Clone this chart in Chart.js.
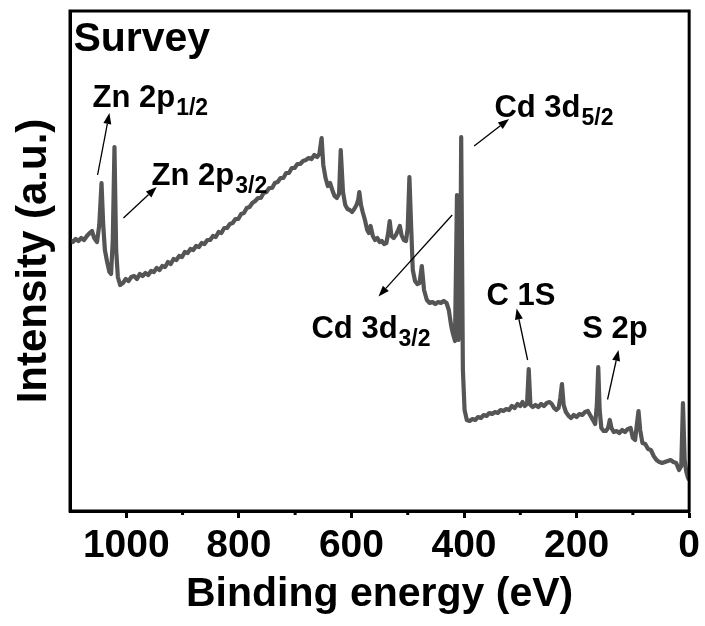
<!DOCTYPE html>
<html>
<head>
<meta charset="utf-8">
<script src="https://cdn.jsdelivr.net/npm/chart.js@4.4.1/dist/chart.umd.min.js"></script>
<style>
    html, body { margin: 0; padding: 0; background: #fff; }
    #wrap { width: 705px; height: 626px; }
</style>
</head>
<body>
<div id="wrap"><canvas id="survey-chart" width="705" height="626"></canvas></div>
<script>
// binding energy (eV) and intensity (a.u.)
let energies = [
    1100, 1095, 1090, 1085, 1080, 1075, 1070, 1065, 1061, 1057, 1052, 1048, 1044, 1041, 1038, 1034, 1030, 1027, 1024, 1021,
    1018, 1015, 1011, 1006, 1001, 996, 991, 986, 981, 976, 971, 966, 961, 956, 951, 946, 941, 936, 931, 926,
    921, 916, 911, 906, 901, 896, 891, 886, 881, 876, 871, 866, 861, 856, 851, 846, 841, 836, 831, 826,
    821, 816, 811, 806, 801, 796, 791, 786, 781, 776, 771, 766, 761, 756, 751, 746, 741, 736, 731, 726,
    721, 716, 711, 706, 701, 696, 691, 686, 681, 676, 671, 666, 661, 657, 653, 650, 646, 642, 638, 634,
    630, 626, 622, 619, 615, 611, 607, 603, 599, 595, 591, 588, 586, 583, 580, 576, 572, 569, 566, 562,
    558, 554, 550, 546, 542, 538, 535, 532, 529, 525, 521, 517, 514, 511, 507, 503, 500, 497, 494, 491,
    487, 483, 479, 475, 471, 466, 461, 456, 451, 446, 441, 436, 431, 427, 423, 420, 416, 412.5, 410, 407,
    405, 402, 399, 395, 390, 385, 380, 375, 370, 365, 360, 355, 350, 345, 340, 335, 330, 325, 320, 315,
    310, 305, 300, 296, 292, 288, 285, 282, 278, 273, 268, 263, 258, 253, 248, 244, 240, 236, 232, 229,
    226, 223, 219, 214, 210, 205, 200, 195, 190, 185, 180, 175, 171, 167, 164, 161.5, 159, 156, 152, 148,
    144, 141, 138, 134, 129, 124, 119, 114, 109, 104, 100, 96, 93, 90, 87, 83, 78, 73, 68, 63,
    58, 53, 48, 43, 38, 33, 28, 23, 18, 14, 11, 8, 5, 2, 0
]
let intensities = [
    54.2, 53.8, 54.4, 54.0, 54.6, 54.2, 55.0, 55.6, 56.0, 54.6, 53.8, 57.2, 65.6, 57.2, 52.2, 49.8, 47.8, 47.4, 54.2, 72.8,
    52.2, 46.8, 45.2, 45.6, 46.4, 46.0, 46.8, 47.0, 46.4, 47.4, 47.0, 47.6, 47.2, 48.0, 47.8, 48.6, 48.2, 49.0, 48.8, 49.8,
    49.4, 50.4, 50.2, 51.0, 50.8, 51.8, 51.6, 52.4, 52.2, 53.0, 52.8, 53.6, 53.4, 54.2, 54.2, 55.0, 54.8, 55.8, 55.6, 56.6,
    56.6, 57.4, 57.6, 58.4, 58.4, 59.4, 59.6, 60.6, 60.8, 61.6, 62.0, 62.6, 62.6, 63.6, 63.8, 64.6, 64.6, 65.6, 65.8, 66.6,
    66.6, 67.6, 67.6, 68.6, 68.6, 69.4, 69.4, 70.0, 70.2, 70.6, 70.4, 71.2, 70.8, 71.4, 74.6, 69.2, 66.6, 65.0, 65.6, 64.2,
    63.0, 62.6, 63.4, 72.2, 63.8, 61.2, 60.4, 60.2, 59.8, 60.4, 61.2, 62.2, 63.8, 61.2, 59.8, 58.2, 56.2, 55.6, 57.0, 55.0,
    54.2, 54.6, 53.8, 54.0, 53.4, 53.6, 55.4, 58.0, 55.0, 54.6, 55.2, 56.2, 57.0, 55.2, 54.2, 54.0, 56.6, 66.8, 57.2, 48.2,
    46.0, 45.4, 45.6, 49.0, 44.2, 42.2, 41.6, 41.8, 41.4, 41.8, 41.6, 42.0, 41.6, 40.2, 37.2, 35.6, 34.0, 63.2, 34.2, 38.2,
    74.8, 28.2, 20.2, 18.2, 18.0, 18.4, 18.2, 18.8, 18.6, 19.2, 19.0, 19.6, 19.4, 19.8, 19.6, 20.2, 20.0, 20.4, 20.2, 21.0,
    20.6, 21.4, 21.0, 21.8, 21.0, 21.4, 28.4, 21.2, 20.8, 21.2, 20.8, 21.4, 21.0, 21.6, 21.8, 21.4, 20.6, 20.2, 20.6, 22.6,
    25.4, 21.2, 19.8, 19.0, 18.6, 19.2, 18.8, 19.4, 19.2, 19.8, 20.0, 19.0, 18.2, 17.4, 21.2, 28.8, 20.2, 16.6, 16.0, 16.0,
    16.6, 18.2, 16.6, 15.8, 16.0, 15.6, 16.2, 15.8, 16.4, 16.6, 14.6, 14.2, 17.2, 20.0, 16.2, 13.6, 13.4, 12.4, 12.2, 11.0,
    10.2, 9.8, 9.6, 9.8, 10.0, 10.2, 9.8, 9.6, 8.2, 9.0, 21.6, 10.2, 7.8, 6.6, 6.2
]
let majorTicks = [1000, 800, 600, 400, 200, 0]
let minorTicks = [900, 700, 500, 300, 100]

// peak labels: text anchor and arrow (tail -> head) in data units
let peakLabels = [
    { text: 'Zn 2p', sub: '1/2', at: [1060, 80.8], tail: [1051, 67.2], head: [1030, 79.6] },
    { text: 'Zn 2p', sub: '3/2', at: [955, 65.2], tail: [1005, 58.6], head: [946, 64.8] },
    { text: 'Cd 3d', sub: '5/2', at: [346, 78.8], tail: [382, 73.0], head: [320, 78.4] },
    { text: 'Cd 3d', sub: '3/2', at: [671, 34.7], tail: [421, 59.2], head: [552, 42.9] },
    { text: 'C 1S', sub: '', at: [360, 41.2], tail: [287, 30.2], head: [306.5, 40.5] },
    { text: 'S 2p', sub: '', at: [190, 34.6], tail: [145, 22.3], head: [125.5, 32.2] }
]

const FONT = '"Liberation Sans", Arial, Helvetica, sans-serif'

let framePlugin = {
    id: 'frame',
    afterDraw(chart) {
        let ctx = chart.ctx
        let a = chart.chartArea
        let x = chart.scales.x
        ctx.save()
        ctx.strokeStyle = '#000'
        ctx.lineWidth = 3
        ctx.strokeRect(a.left, a.top, a.right - a.left, a.bottom - a.top)
        // short minor ticks
        ctx.beginPath()
        minorTicks.forEach(function(v) {
            let px = x.getPixelForValue(v)
            ctx.moveTo(px, a.bottom)
            ctx.lineTo(px, a.bottom + 4)
        })
        ctx.stroke()
        ctx.restore()
    }
}

function drawArrow(ctx, x0, y0, x1, y1) {
    let ang = Math.atan2(y1 - y0, x1 - x0)
    let len = 11
    let half = 4
    let bx = x1 - len * Math.cos(ang)
    let by = y1 - len * Math.sin(ang)
    ctx.beginPath()
    ctx.moveTo(x0, y0)
    ctx.lineTo(bx, by)
    ctx.stroke()
    ctx.beginPath()
    ctx.moveTo(x1, y1)
    ctx.lineTo(bx + half * Math.sin(ang), by - half * Math.cos(ang))
    ctx.lineTo(bx - half * Math.sin(ang), by + half * Math.cos(ang))
    ctx.closePath()
    ctx.fill()
}

let labelPlugin = {
    id: 'peakLabels',
    afterDraw(chart) {
        let ctx = chart.ctx
        let xs = chart.scales.x
        let ys = chart.scales.y
        ctx.save()
        ctx.fillStyle = '#000'
        ctx.strokeStyle = '#000'
        ctx.lineWidth = 1.3
        ctx.textAlign = 'left'
        ctx.textBaseline = 'alphabetic'

        ctx.font = 'bold 41px ' + FONT
        ctx.fillText('Survey', xs.getPixelForValue(1094), ys.getPixelForValue(92))

        peakLabels.forEach(function(p) {
            let tx = xs.getPixelForValue(p.at[0])
            let ty = ys.getPixelForValue(p.at[1])
            ctx.font = 'bold 31px ' + FONT
            ctx.fillText(p.text, tx, ty)
            if (p.sub) {
                let w = ctx.measureText(p.text).width
                ctx.font = 'bold 23px ' + FONT
                ctx.fillText(p.sub, tx + w + 1, ty + 8)
            }
            drawArrow(ctx,
                xs.getPixelForValue(p.tail[0]), ys.getPixelForValue(p.tail[1]),
                xs.getPixelForValue(p.head[0]), ys.getPixelForValue(p.head[1]))
        })
        ctx.restore()
    }
}

let points = energies.map(function(e, i) {
    return { x: e, y: intensities[i] }
})

new Chart(document.getElementById('survey-chart'), {
    type: 'line',
    data: {
        datasets: [{
            data: points,
            borderColor: '#555555',
            borderWidth: 4.2,
            borderJoinStyle: 'round',
            pointRadius: 0,
            tension: 0,
            fill: false
        }]
    },
    options: {
        responsive: false,
        animation: false,
        devicePixelRatio: 1,
        layout: { padding: { top: 11, right: 15, left: 0, bottom: 0 } },
        plugins: {
            legend: { display: false },
            tooltip: { enabled: false }
        },
        scales: {
            x: {
                type: 'linear',
                min: 0,
                max: 1100,
                reverse: true,
                afterBuildTicks: function(scale) {
                    scale.ticks = majorTicks.map(function(v) { return { value: v } })
                },
                afterFit: function(scale) { scale.height = 115 },
                ticks: {
                    autoSkip: false,
                    maxRotation: 0,
                    padding: 5,
                    color: '#000',
                    font: { family: FONT, size: 39, weight: 'bold' },
                    callback: function(v) { return String(v) }
                },
                grid: {
                    drawOnChartArea: false,
                    drawTicks: true,
                    tickLength: 7,
                    tickWidth: 3,
                    tickColor: '#000'
                },
                border: { display: true, color: '#000', width: 3 },
                title: {
                    display: true,
                    text: 'Binding energy (eV)',
                    color: '#000',
                    font: { family: FONT, size: 41, weight: 'bold' },
                    padding: { top: 0, bottom: 7 }
                }
            },
            y: {
                type: 'linear',
                min: 0,
                max: 100,
                afterFit: function(scale) { scale.width = 70 },
                ticks: { display: false },
                grid: { display: false },
                border: { display: true, color: '#000', width: 3 },
                title: {
                    display: true,
                    text: 'Intensity (a.u.)',
                    color: '#000',
                    font: { family: FONT, size: 42, weight: 'bold' },
                    padding: { top: 9, bottom: 0 }
                }
            }
        }
    },
    plugins: [framePlugin, labelPlugin]
})
</script>
</body>
</html>
